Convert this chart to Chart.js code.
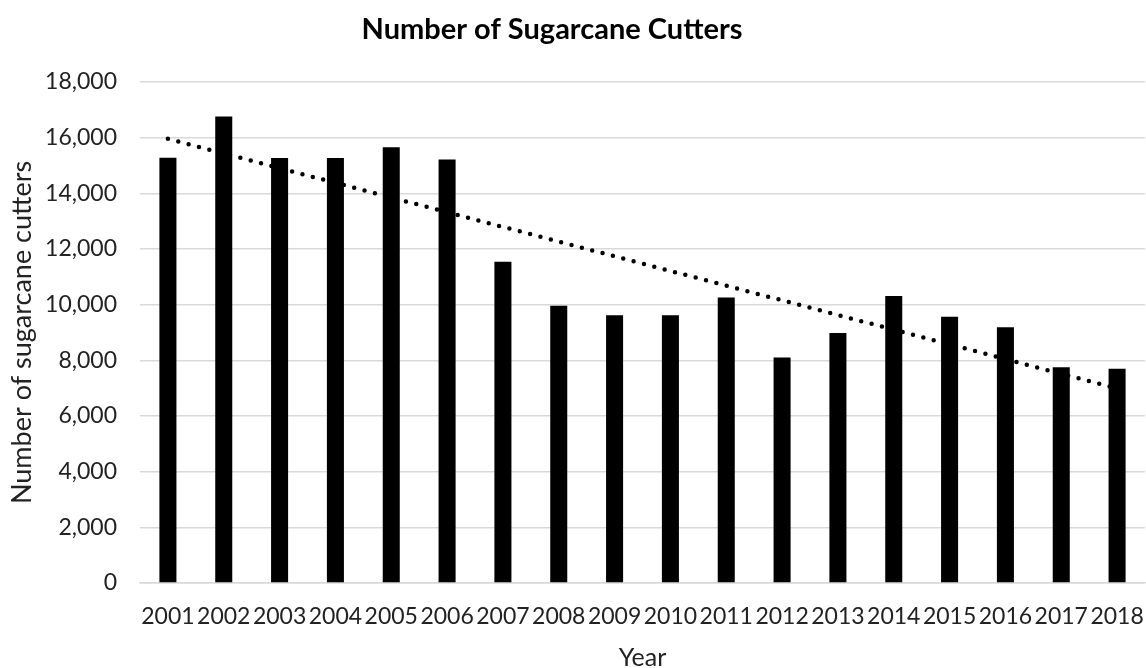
<!DOCTYPE html>
<html lang="en">
<head>
  <meta charset="UTF-8">
  <title>Number of Sugarcane Cutters</title>
  <script src="https://cdn.jsdelivr.net/npm/chart.js"></script>
  <style>
    html, body { margin: 0; padding: 0; background: #fff; }
    #wrap { position: relative; width: 1146px; height: 668px; }
  </style>
</head>
<body>
  <div id="wrap">
    <canvas id="cutters"></canvas>
  </div>

  <script>
    // Values
    const years = ['2001', '2002', '2003', '2004', '2005', '2006', '2007', '2008', '2009',
                   '2010', '2011', '2012', '2013', '2014', '2015', '2016', '2017', '2018'];
    const cutters = [15280, 16760, 15270, 15270, 15660, 15220, 11540, 9960, 9620,
                     9620, 10260, 8100, 8980, 10310, 9570, 9190, 7750, 7700];
    // linear trendline: only its two end points, as they appear on the chart
    const trendStart = 15960;
    const trendEnd = 6990;
    const trend = years.map((y, i) => i === 0 ? trendStart : (i === years.length - 1 ? trendEnd : null));
    const yTicks = [0, 2000, 4000, 6000, 8000, 10000, 12000, 14000, 16000, 18000];

    const FONT = 'Lato, "Open Sans", sans-serif';

    // Title drawn by hand so it sits where Excel put it
    const titlePlugin = {
      id: 'titlePlugin',
      afterDraw: (chart) => {
        const ctx = chart.ctx;
        ctx.save();
        ctx.font = 'bold 29px ' + FONT;
        ctx.fillStyle = '#000';
        ctx.textAlign = 'center';
        ctx.textBaseline = 'middle';
        ctx.fillText('Number of Sugarcane Cutters', 552, 30);
        ctx.restore();
      }
    };

    const ctx = document.getElementById('cutters').getContext('2d');
    new Chart(ctx, {
      type: 'bar',
      data: {
        labels: years,
        datasets: [
          {
            type: 'line',
            label: 'Trend',
            data: trend,
            spanGaps: true,
            borderColor: '#000',
            borderWidth: 4.5,
            borderDash: [0, 10.7],
            borderCapStyle: 'round',
            pointRadius: 0,
            fill: false,
            order: 0
          },
          {
            label: 'Number of sugarcane cutters',
            data: cutters,
            backgroundColor: '#000',
            borderWidth: 0,
            barPercentage: 0.305,
            categoryPercentage: 1,
            order: 1
          }
        ]
      },
      options: {
        responsive: true,
        maintainAspectRatio: false,
        animation: false,
        layout: { padding: { top: 82, right: 1, left: 0, bottom: 0 } },
        plugins: {
          legend: { display: false },
          tooltip: { enabled: false },
          title: { display: false }
        },
        scales: {
          x: {
            grid: { display: false, drawTicks: false },
            border: { display: true, color: '#d9d9d9', width: 1.5 },
            ticks: {
              color: '#222',
              font: { family: FONT, size: 23 },
              padding: 20,
              maxRotation: 0,
              autoSkip: false
            },
            title: {
              display: true,
              text: 'Year',
              color: '#222',
              font: { family: FONT, size: 25 },
              padding: { top: 0, bottom: -5 }
            },
            afterFit: (s) => {
              s.height = 85;
              s.paddingLeft = 0;
              s.paddingRight = 0;
            }
          },
          y: {
            min: 0,
            max: 18000,
            afterBuildTicks: (s) => { s.ticks = yTicks.map(v => ({ value: v })); },
            grid: { color: '#d9d9d9', lineWidth: 1.5, drawTicks: false },
            border: { display: false },
            ticks: {
              color: '#222',
              font: { family: FONT, size: 23 },
              padding: 23,
              callback: v => v.toLocaleString('en-US')
            },
            title: {
              display: true,
              text: 'Number of sugarcane cutters',
              color: '#222',
              font: { family: FONT, size: 27 },
              padding: { top: 6, bottom: 0 }
            },
            afterFit: (s) => {
              s.width = 140;
              s.paddingTop = 0;
              s.paddingBottom = 0;
            }
          }
        }
      },
      plugins: [titlePlugin]
    });
  </script>
</body>
</html>
